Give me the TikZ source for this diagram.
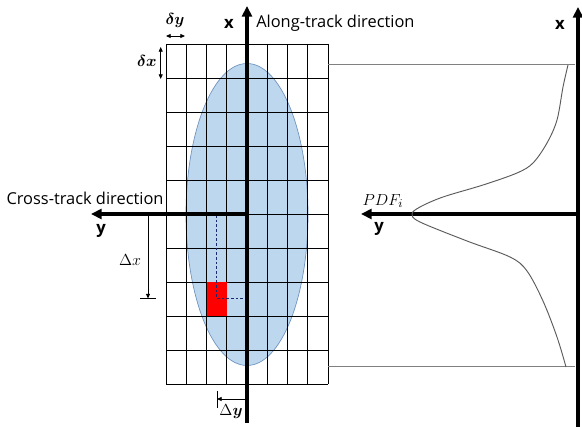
\documentclass[tikz,border=0pt]{standalone}
\usepackage{fontspec}
\usepackage{amsmath}
\newfontfamily\labfont{Open Sans}
\usetikzlibrary{arrows.meta}
\definecolor{ellfill}{RGB}{189,215,238}
\definecolor{elldraw}{RGB}{110,145,190}
\definecolor{curvegray}{RGB}{90,90,90}
\definecolor{linegray}{RGB}{128,128,128}
\definecolor{dashblue}{RGB}{30,40,110}
\begin{document}
\begin{tikzpicture}[x=0.75pt,y=-0.75pt,
  gridline/.style={line width=0.7pt,black},
  axisline/.style={line width=2.3pt,black,-{Triangle[length=8pt,width=7.5pt]}},
  dimarrow/.style={line width=0.6pt,black,-{Triangle[length=3.5pt,width=3pt]}},
  dimboth/.style={line width=0.6pt,black,{Triangle[length=3.5pt,width=3pt]}-{Triangle[length=3.5pt,width=3pt]}},
  dimbar/.style={line width=0.6pt,black},
  guide/.style={line width=0.5pt,dashblue,dash pattern=on 2pt off 1.5pt},
  sanslab/.style={font=\labfont\fontsize{12.3}{14}\selectfont,inner sep=0pt},
  axlab/.style={font=\labfont\bfseries\fontsize{12.5}{14}\selectfont,inner sep=0pt},
  mathlab/.style={font=\fontsize{12.5}{14}\selectfont,inner sep=0pt}
]
\useasboundingbox (0,0) rectangle (582,427);

% footprint ellipse
\draw[fill=ellfill,draw=elldraw,line width=0.5pt] (247,214.5) ellipse [x radius=61, y radius=151];

% grid
\foreach \i in {0,...,8} \draw[gridline] ({166+\i*20.25},44) -- ({166+\i*20.25},384);
\foreach \j in {0,...,10} \draw[gridline] (166,{44+\j*34}) -- (328,{44+\j*34});

% red cell
\fill[red] (206.5,282) rectangle (226.75,316);
\coordinate (cellc) at (216.6,298.5);
\coordinate (dropA) at (216.6,215);
\coordinate (axC) at (246,298.5);
\draw[guide] (dropA) -- (cellc) -- (axC);

% left axes
\coordinate (Lo) at (247,214);
\coordinate (Ltop) at (247,6);
\coordinate (Lbot) at (247,423);
\coordinate (Lleft) at (91,214);
\draw[axisline] (Lbot) -- (Ltop);
\draw[axisline] (Lo) -- (Lleft);

% delta y, delta x small arrows
\coordinate (dyA) at (166,36); \coordinate (dyB) at (185,36);
\draw[dimboth] (dyA) -- (dyB);
\coordinate (dxA) at (160.7,47); \coordinate (dxB) at (160.7,79);
\draw[dimboth] (dxA) -- (dxB);

% Delta x
\coordinate (DxA) at (148,216); \coordinate (DxB) at (148,298.5);
\draw[dimarrow] (DxA) -- (DxB);
\coordinate (DxL) at (140,298.5); \coordinate (DxR) at (156,298.5);
\draw[dimbar] (DxL) -- (DxR);

% Delta y
\coordinate (DyA) at (246,399); \coordinate (DyB) at (217,399);
\draw[dimarrow] (DyA) -- (DyB);
\coordinate (DyT) at (217,391); \coordinate (DyD) at (217,408);
\draw[dimbar] (DyT) -- (DyD);

% labels left
\node[axlab] (lx) at (229,24) {x};
\node[sanslab,anchor=west] (along) at (256,23) {Along-track direction};
\node[sanslab] (cross) at (85,198) {Cross-track direction};
\node[axlab] (ly) at (101,231) {y};
\node[mathlab] (ldy) at (175,21) {$\boldsymbol{\delta y}$};
\node[mathlab] (ldx) at (147,61) {$\boldsymbol{\delta x}$};
\node[mathlab] (lDx) at (130,260) {$\Delta x$};
\node[mathlab] (lDy) at (231,412) {$\Delta\boldsymbol{y}$};

% projection lines
\coordinate (tl) at (328,64.5); \coordinate (tr) at (575,64.5);
\coordinate (bl) at (328,366.5); \coordinate (br) at (575,366.5);
\draw[linegray,line width=0.8pt] (tl) -- (tr);
\draw[linegray,line width=0.8pt] (bl) -- (br);

% right axes
\coordinate (Ro) at (578,214);
\coordinate (Rtop) at (578,7);
\coordinate (Rbot) at (578,427);
\coordinate (Rleft) at (361,214);
\draw[axisline] (Rbot) -- (Rtop);
\draw[axisline] (Ro) -- (Rleft);

% PDF curve
\draw[curvegray,line width=0.7pt] plot[smooth,tension=0.55] coordinates {
 (568,65) (563,87) (557,120) (547,143) (533,163) (517,173) (483,185)
 (443,197) (420,207) (412,214) (420,222) (467,241) (510,257) (527,271)
 (543,301) (557,337) (566,367)};

% labels right
\node[axlab] (rx) at (560,25) {x};
\node[axlab] (ry) at (379,229) {y};
\node[mathlab] (pdf) at (383,201) {$PDF_i$};
\end{tikzpicture}
\end{document}
